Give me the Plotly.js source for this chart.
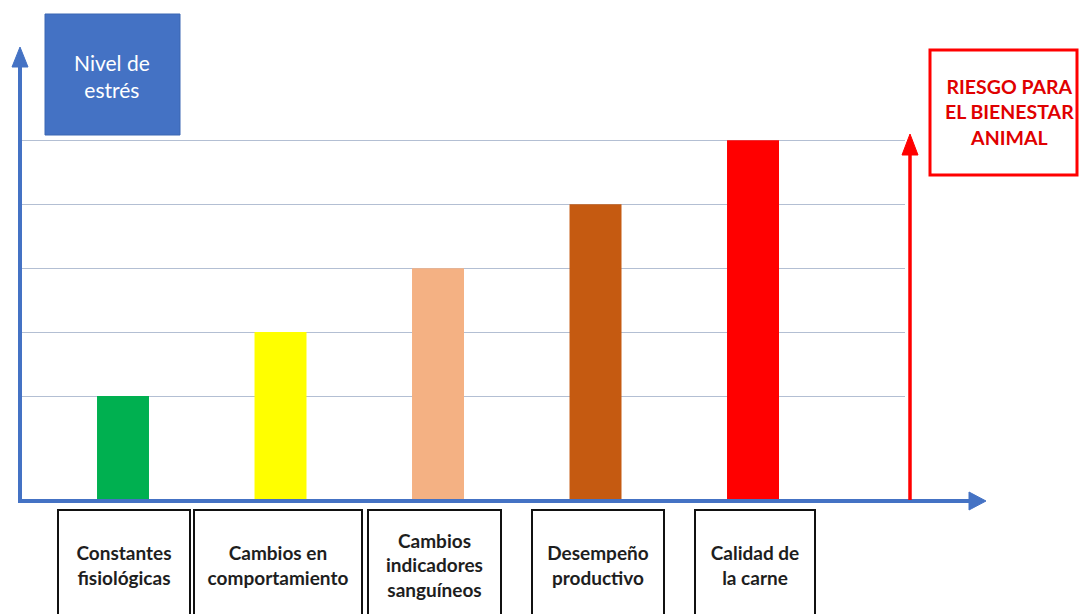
<!DOCTYPE html>
<html>
<head>
<meta charset="utf-8">
<script src="https://cdn.plot.ly/plotly-3.0.1.min.js"></script>
<style>
  html, body { margin: 0; padding: 0; background: #ffffff; }
  #chart { width: 1080px; height: 614px; }
</style>
</head>
<body>
<div id="chart"></div>
<script>
// Stress indicators, ordered by the stress level at which each one responds
const categories = [
  'Constantes<br>fisiológicas',
  'Cambios en<br>comportamiento',
  'Cambios<br>indicadores<br>sanguíneos',
  'Desempeño<br>productivo',
  'Calidad de<br>la carne'
];
const stressLevels = [1, 2, 3, 4, 5];
const barColors = ['#00b050', '#ffff00', '#f4b183', '#c55a11', '#ff0000'];
const levelTicks = [1, 2, 3, 4, 5];
const yTitle = 'Nivel de<br>estrés';
const riskLabel = 'RIESGO PARA<br>EL BIENESTAR<br>ANIMAL';

// Canvas geometry (pixels) of the plotting frame
const W = 1080, H = 614;
const frame = { left: 20, right: 905, top: 50, bottom: 501 };
const floorLevel = -0.64;            // value sitting on the horizontal axis
const xRange = [-0.654, 4.965];
const yRange = [floorLevel, 6.41];

// pixel -> paper helpers for the decorations drawn around the frame
const px = v => (v - frame.left) / (frame.right - frame.left);
const py = v => (frame.bottom - v) / (frame.bottom - frame.top);

const blue = '#4472c4';
const red = '#ff0000';

const trace = {
  type: 'bar',
  x: categories,
  y: stressLevels.map(v => v - floorLevel),
  base: floorLevel,
  width: 0.33,
  marker: { color: barColors, line: { width: 0 } },
  hoverinfo: 'skip'
};

function tri(tip, b1, b2) {
  return `M ${px(tip[0])} ${py(tip[1])} L ${px(b1[0])} ${py(b1[1])} L ${px(b2[0])} ${py(b2[1])} Z`;
}

const shapes = [
  // vertical axis with arrow
  { type: 'line', xref: 'paper', yref: 'paper', x0: px(20), x1: px(20), y0: py(503), y1: py(64),
    line: { color: blue, width: 4 } },
  { type: 'path', xref: 'paper', yref: 'paper', path: tri([20, 47], [12, 67], [28, 67]),
    fillcolor: blue, line: { color: blue, width: 1 } },
  // horizontal axis with arrow
  { type: 'line', xref: 'paper', yref: 'paper', x0: px(18), x1: px(972), y0: py(501), y1: py(501),
    line: { color: blue, width: 4 } },
  { type: 'path', xref: 'paper', yref: 'paper', path: tri([986, 501], [969, 492], [969, 510]),
    fillcolor: blue, line: { color: blue, width: 1 } },
  // risk arrow
  { type: 'line', xref: 'paper', yref: 'paper', x0: px(910), x1: px(910), y0: py(500), y1: py(150),
    line: { color: red, width: 3.5 } },
  { type: 'path', xref: 'paper', yref: 'paper', path: tri([910, 134], [902, 155], [918, 155]),
    fillcolor: red, line: { color: red, width: 1 } },
  // title box
  { type: 'rect', xref: 'paper', yref: 'paper', x0: px(45), x1: px(180), y0: py(135), y1: py(14),
    fillcolor: blue, line: { color: '#3b66b3', width: 1 } },
  // risk box
  { type: 'rect', xref: 'paper', yref: 'paper', x0: px(930), x1: px(1077), y0: py(175), y1: py(50),
    fillcolor: '#ffffff', line: { color: red, width: 3 } }
];

// label boxes under each bar
const labelBoxWidths = [130, 166, 131, 130, 118];
const labelShifts = [1, -3, -4, 2, 2];

const annotations = categories.map((c, i) => ({
  x: i, xref: 'x', y: py(565), yref: 'paper',
  xshift: labelShifts[i],
  text: c, showarrow: false,
  width: labelBoxWidths[i], height: 108,
  align: 'center', valign: 'middle',
  bordercolor: '#111111', borderwidth: 2, borderpad: 0,
  bgcolor: '#ffffff',
  font: { family: 'Lato, sans-serif', size: 19, color: '#1e1e1e', weight: 700 },
  xanchor: 'center', yanchor: 'middle'
}));

annotations.push({
  x: px(112), xref: 'paper', y: py(76), yref: 'paper',
  text: yTitle, showarrow: false, align: 'center',
  font: { family: 'Lato, sans-serif', size: 21, color: '#ffffff' },
  xanchor: 'center', yanchor: 'middle'
});

annotations.push({
  x: px(1010), xref: 'paper', y: py(112), yref: 'paper',
  text: riskLabel, showarrow: false, align: 'center',
  font: { family: 'Lato, sans-serif', size: 19.5, color: '#e00000', weight: 700 },
  xanchor: 'center', yanchor: 'middle'
});

const layout = {
  width: W, height: H,
  margin: { l: frame.left, r: W - frame.right, t: frame.top, b: H - frame.bottom, pad: 0 },
  paper_bgcolor: '#ffffff',
  plot_bgcolor: '#ffffff',
  showlegend: false,
  xaxis: {
    type: 'category', range: xRange, fixedrange: true,
    showgrid: false, zeroline: false, showline: false,
    showticklabels: false, ticks: ''
  },
  yaxis: {
    range: yRange, fixedrange: true,
    tickmode: 'array', tickvals: levelTicks,
    showgrid: true, gridcolor: '#b3bfd3', gridwidth: 1,
    zeroline: false, showline: false, showticklabels: false, ticks: ''
  },
  shapes: shapes,
  annotations: annotations
};

Plotly.newPlot('chart', [trace], layout, { displayModeBar: false, staticPlot: true });
</script>
</body>
</html>
